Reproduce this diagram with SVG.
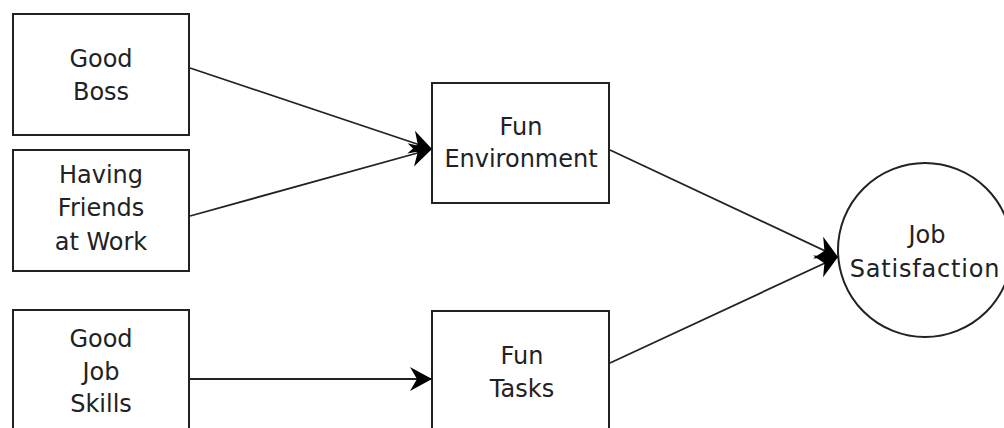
<svg xmlns="http://www.w3.org/2000/svg" width="1004" height="428" viewBox="0 0 1004 428">
<style>
.box{fill:#fff;stroke:#222;stroke-width:2}
.lbl{font-family:"DejaVu Sans","Liberation Sans",sans-serif;font-size:24px;fill:#222;text-anchor:middle}
.edge{stroke:#222;stroke-width:1.8;fill:none;marker-end:url(#arr)}
</style>
<defs>
<marker id="arr" markerUnits="userSpaceOnUse" markerWidth="26" markerHeight="28" viewBox="-24 -13 26 26" refX="0" refY="0" orient="auto">
<path d="M0,0 L-22,-12 L-15,0 L-22,12 Z" fill="#000"/>
</marker>
</defs>
<rect width="1004" height="428" fill="#fff"/>
<g id="good-boss">
<rect class="box" x="13" y="14" width="176" height="121"/>
<text class="lbl" x="101" y="67">Good</text>
<text class="lbl" x="101" y="100">Boss</text>
</g>
<g id="having-friends">
<rect class="box" x="13" y="150" width="176" height="121"/>
<text class="lbl" x="101" y="183">Having</text>
<text class="lbl" x="101" y="216">Friends</text>
<text class="lbl" x="101" y="250">at Work</text>
</g>
<g id="good-job-skills">
<rect class="box" x="13" y="310" width="176" height="140"/>
<text class="lbl" x="101" y="347">Good</text>
<text class="lbl" x="101" y="380">Job</text>
<text class="lbl" x="101" y="412">Skills</text>
</g>
<g id="fun-environment">
<rect class="box" x="432" y="83" width="177" height="120"/>
<text class="lbl" x="521" y="135">Fun</text>
<text class="lbl" x="521" y="167">Environment</text>
</g>
<g id="fun-tasks">
<rect class="box" x="432" y="311" width="177" height="140"/>
<text class="lbl" x="522" y="364">Fun</text>
<text class="lbl" x="522" y="397">Tasks</text>
</g>
<g id="job-satisfaction">
<circle cx="925" cy="250" r="87" fill="#fff" stroke="#222" stroke-width="2"/>
<text class="lbl" x="927" y="243">Job</text>
<text class="lbl" x="925" y="277" letter-spacing="0.8">Satisfaction</text>
</g>
<g id="connectors">
<line class="edge" x1="190" y1="68" x2="432" y2="149"/>
<line class="edge" x1="190" y1="216" x2="432" y2="149"/>
<line class="edge" x1="610" y1="150" x2="838" y2="257"/>
<line class="edge" x1="610" y1="363" x2="838" y2="257"/>
<line class="edge" x1="190" y1="379" x2="432" y2="379"/>
</g>
</svg>
